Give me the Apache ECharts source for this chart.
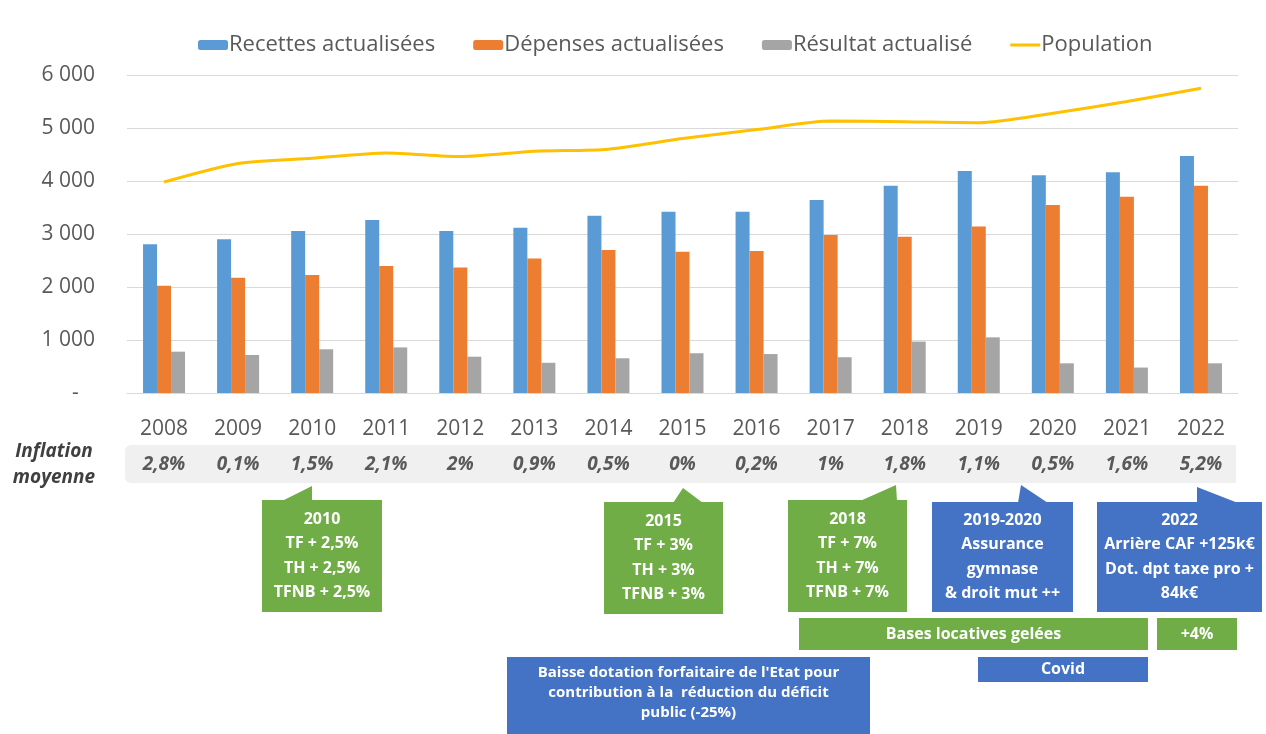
<!DOCTYPE html>
<html>
<head>
<meta charset="utf-8">
<script src="https://cdn.jsdelivr.net/npm/echarts@6/dist/echarts.min.js"></script>
<style>
  html, body { margin: 0; padding: 0; background: #fff; }
  #chart { width: 1266px; height: 734px; }
</style>
</head>
<body>
<div id="chart"></div>
<script>
// values
const years = ['2008', '2009', '2010', '2011', '2012', '2013', '2014', '2015', '2016', '2017', '2018', '2019', '2020', '2021', '2022'];
const recettes = [2805, 2900, 3055, 3265, 3055, 3120, 3345, 3420, 3420, 3640, 3910, 4190, 4110, 4165, 4470];
const depenses = [2025, 2175, 2225, 2395, 2370, 2540, 2700, 2665, 2680, 2980, 2950, 3140, 3545, 3705, 3910];
const resultat = [780, 717, 825, 860, 685, 570, 655, 750, 735, 675, 970, 1050, 560, 480, 560];
const population = [3980, 4330, 4430, 4530, 4460, 4560, 4600, 4800, 4970, 5130, 5120, 5100, 5280, 5500, 5750];
const inflation = ['2,8%', '0,1%', '1,5%', '2,1%', '2%', '0,9%', '0,5%', '0%', '0,2%', '1%', '1,8%', '1,1%', '0,5%', '1,6%', '5,2%'];

const FONT = "'Open Sans', sans-serif";
const GREEN = '#70AD47';
const BLUE = '#4472C4';

// annotation boxes under the chart
const notes = [
  { box: [262, 500, 120, 112], tri: [[282, 501], [312, 486], [312, 501]], color: GREEN, text: '2010\nTF + 2,5%\nTH + 2,5%\nTFNB + 2,5%' },
  { box: [604, 502, 119, 112], tri: [[673, 503], [683, 488], [703, 503]], color: GREEN, text: '2015\nTF + 3%\nTH + 3%\nTFNB + 3%' },
  { box: [788, 500, 119, 112], tri: [[860, 501], [896, 485], [897, 501]], color: GREEN, text: '2018\nTF + 7%\nTH + 7%\nTFNB + 7%' },
  { box: [932, 502, 141, 110], tri: [[1018, 503], [1021, 485], [1048, 503]], color: BLUE, text: '2019-2020\nAssurance\ngymnase\n& droit mut ++' },
  { box: [1097, 502, 165, 110], tri: [[1197, 503], [1197, 487], [1238, 503]], color: BLUE, text: '2022\nArrière CAF +125k€\nDot. dpt taxe pro +\n84k€' },
  { box: [799, 618, 349, 32], color: GREEN, text: 'Bases locatives gelées' },
  { box: [1157, 618, 80, 32], color: GREEN, text: '+4%' },
  { box: [978, 657, 170, 25], color: BLUE, text: 'Covid' },
  { box: [507, 657, 363, 80], color: BLUE, textY: 693, lh: 20, size: 15, text: "Baisse dotation forfaitaire de l'Etat pour\ncontribution à la  réduction du déficit\npublic (-25%)" }
];

function buildGraphics() {
  const g = [];
  g.push({
    type: 'rect', z: -10,
    shape: { x: 125, y: 445, width: 1111, height: 38, r: [6, 0, 0, 6] },
    style: { fill: '#f0f0f0' }
  });
  g.push({
    type: 'text', x: 54, y: 465,
    style: {
      text: 'Inflation\nmoyenne', align: 'center', verticalAlign: 'middle',
      font: "italic bold 19px " + FONT, lineHeight: 26, fill: '#404040'
    }
  });
  notes.forEach(n => {
    const [x, y, w, h] = n.box;
    g.push({ type: 'rect', shape: { x: x, y: y, width: w, height: h }, style: { fill: n.color } });
    if (n.tri) {
      g.push({ type: 'polygon', shape: { points: n.tri }, style: { fill: n.color } });
    }
    g.push({
      type: 'text', x: x + w / 2, y: n.textY || (y + h / 2),
      style: {
        text: n.text, align: 'center', verticalAlign: 'middle',
        font: 'bold ' + (n.size || 16) + 'px ' + FONT,
        lineHeight: n.lh || 24.5, fill: '#ffffff'
      }
    });
  });
  return g;
}

const chart = echarts.init(document.getElementById('chart'));

const option = {
  animation: false,
  textStyle: { fontFamily: FONT },
  legend: {
    left: 193, top: 29,
    itemWidth: 30, itemHeight: 10, itemGap: 38,
    textStyle: { fontSize: 22, color: '#595959', fontFamily: FONT, padding: [0, 0, 0, -4] },
    data: [
      'Recettes actualisées',
      'Dépenses actualisées',
      'Résultat actualisé',
      { name: 'Population', icon: 'path://M0,0 L30,0 L30,3 L0,3 Z' }
    ]
  },
  grid: { left: 127, right: 28, top: 75, bottom: 341 },
  xAxis: [
    {
      type: 'category',
      data: years,
      axisTick: { show: false },
      axisLine: { lineStyle: { color: '#d9d9d9', width: 1 } },
      axisLabel: { fontSize: 21, color: '#595959', margin: 26, fontFamily: FONT }
    },
    {
      type: 'category',
      data: inflation,
      position: 'bottom',
      axisTick: { show: false },
      axisLine: { show: false },
      axisLabel: {
        fontSize: 19, color: '#595959', margin: 62, fontFamily: FONT,
        fontStyle: 'italic', fontWeight: 'bold'
      }
    }
  ],
  yAxis: {
    type: 'value',
    min: 0, max: 6000, interval: 1000,
    axisLine: { show: false },
    axisTick: { show: false },
    splitLine: { lineStyle: { color: '#d9d9d9' } },
    axisLabel: {
      fontSize: 21, color: '#595959', margin: 32, fontFamily: FONT,
      formatter: v => v === 0 ? '-   ' : String(v).replace(/\B(?=(\d{3})+(?!\d))/g, ' ')
    }
  },
  series: [
    { name: 'Recettes actualisées', type: 'bar', data: recettes, barWidth: 14, barGap: '0%', itemStyle: { color: '#5B9BD5' } },
    { name: 'Dépenses actualisées', type: 'bar', data: depenses, barWidth: 14, barGap: '0%', itemStyle: { color: '#ED7D31' } },
    { name: 'Résultat actualisé', type: 'bar', data: resultat, barWidth: 14, barGap: '0%', itemStyle: { color: '#A5A5A5' } },
    {
      name: 'Population', type: 'line', data: population,
      symbol: 'none', smooth: 0.25,
      lineStyle: { color: '#FFC000', width: 3 },
      itemStyle: { color: '#FFC000' }
    }
  ],
  graphic: buildGraphics()
};

chart.setOption(option);
</script>
</body>
</html>
